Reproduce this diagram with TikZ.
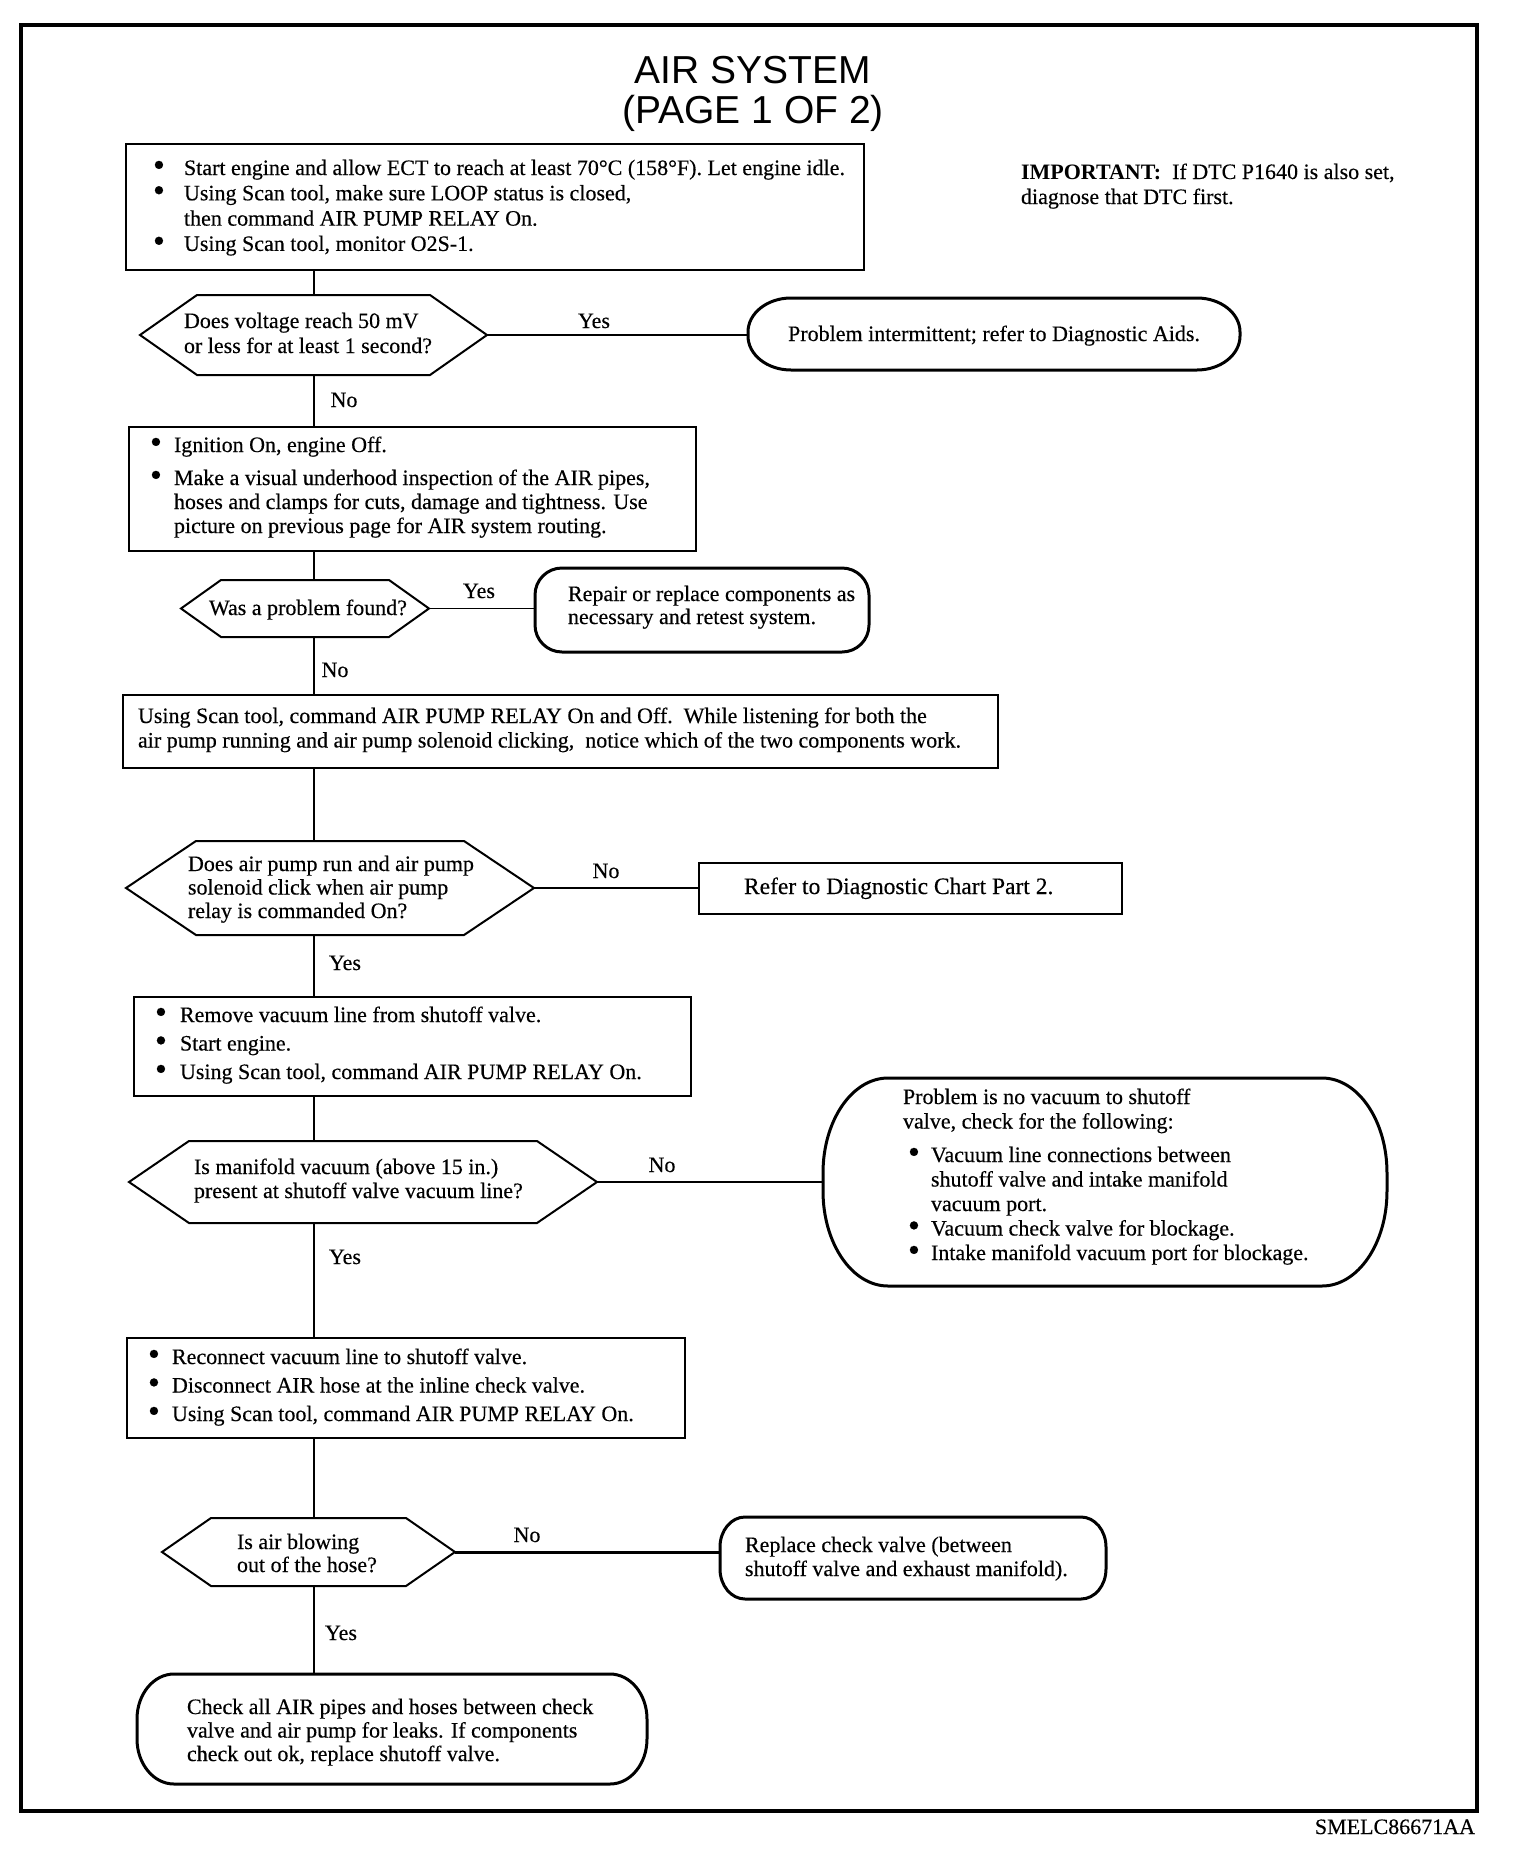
\documentclass[tikz,border=0pt]{standalone}
\usepackage{fontspec}
\usepackage{graphicx}
\setmainfont{Liberation Serif}[UprightFeatures={FakeBold=0.35}]
\newfontfamily\titlefont{Liberation Sans}
\usetikzlibrary{calc}
\newcommand\bul[1]{\makebox[#1pt][l]{\raisebox{-1.2pt}{\scalebox{1.55}{\textbullet}}}}
\newcommand\ind[1]{\hspace*{#1pt}}
\newcommand\tl[1]{\begin{tabular}[t]{@{}l@{}}#1\end{tabular}}
\newcommand\hexpath[2]{\draw[hexline] (#1.west) -- ([xshift=#2pt]#1.north west) -- ([xshift=-#2pt]#1.north east) -- (#1.east) -- ([xshift=-#2pt]#1.south east) -- ([xshift=#2pt]#1.south west) -- cycle;}
\newcommand\termpath[3]{\draw[termline] ([xshift=#2pt]#1.north west) -- ([xshift=-#2pt]#1.north east)
  arc[start angle=90, end angle=0, x radius=#2, y radius=#3]
  -- ([yshift=#3pt]#1.south east)
  arc[start angle=0, end angle=-90, x radius=#2, y radius=#3]
  -- ([xshift=#2pt]#1.south west)
  arc[start angle=-90, end angle=-180, x radius=#2, y radius=#3]
  -- ([yshift=-#3pt]#1.north west)
  arc[start angle=180, end angle=90, x radius=#2, y radius=#3] -- cycle;}
\tikzset{
  boxnode/.style={draw, line width=2pt, inner sep=0pt, outer sep=0pt, anchor=north west},
  shapenode/.style={inner sep=0pt, outer sep=0pt},
  hexline/.style={line width=2pt, line join=miter},
  termline/.style={line width=3pt},
  conn/.style={line width=1.5pt},
  txt/.style={inner sep=0pt, outer sep=0pt, anchor=base west, font=\fontsize{22}{25}\selectfont},
  lbl/.style={inner sep=0pt, outer sep=0pt, anchor=base, font=\fontsize{22}{25}\selectfont},
}
\begin{document}
\begin{tikzpicture}[x=1pt, y=1pt]
\useasboundingbox (0,0) rectangle (1520,-1858);
\draw[line width=3.5pt] (21,-25) rectangle (1477,-1811);

% title
\node[inner sep=0pt, anchor=base, font=\titlefont\fontsize{39}{40}\selectfont] (title) at (753,-83)
  {\begin{tabular}[t]{@{}c@{}}AIR SYSTEM\\(PAGE 1 OF 2)\end{tabular}};
\node[txt] (imp) at (1021,-179) {\tl{\textbf{IMPORTANT:}\ \ If DTC P1640 is also set,\\diagnose that DTC first.}};
\node[txt, anchor=base east] (code) at (1475,-1834) {SMELC86671AA};

% spine
\coordinate (sp) at (314,0);

% box 1
\node[boxnode, minimum width=738pt, minimum height=126pt] (b1) at (126,-144) {};
\node[txt, font=\fontsize{22}{25.3}\selectfont] (b1t) at (153,-175) {\tl{%
\bul{31}Start engine and allow ECT to reach at least 70°C (158°F). Let engine idle.\\
\bul{31}Using Scan tool, make sure LOOP status is closed,\\
\ind{31}then command AIR PUMP RELAY On.\\
\bul{31}Using Scan tool, monitor O2S-1.}};

% hex 1
\node[shapenode, minimum width=347pt, minimum height=80pt] (h1) at (313.5,-335) {};
\hexpath{h1}{57}
\node[txt] (h1t) at (184,-328) {\tl{Does voltage reach 50 mV\\or less for at least 1 second?}};

% term 1
\node[shapenode, minimum width=492pt, minimum height=72pt] (t1) at (994,-334) {};
\termpath{t1}{43}{34}
\node[lbl] (t1t) at (994,-341) {Problem intermittent; refer to Diagnostic Aids.};

% box 2
\node[boxnode, minimum width=567pt, minimum height=124pt] (b2) at (129,-427) {};
\node[txt, font=\fontsize{22}{24}\selectfont] (b2t) at (150,-452) {\tl{%
\bul{24}Ignition On, engine Off.\\[9pt]
\bul{24}Make a visual underhood inspection of the AIR pipes,\\
\ind{24}hoses and clamps for cuts, damage and tightness. Use\\
\ind{24}picture on previous page for AIR system routing.}};

% hex 2
\node[shapenode, minimum width=248pt, minimum height=57pt] (h2) at (305,-608.5) {};
\hexpath{h2}{40}
\node[txt] (h2t) at (209,-615) {Was a problem found?};

% term 2
\node[shapenode, minimum width=334pt, minimum height=84pt] (t2) at (702,-610) {};
\termpath{t2}{27}{27}
\node[txt, font=\fontsize{22}{23}\selectfont] (t2t) at (568,-601) {\tl{Repair or replace components as\\necessary and retest system.}};

% box 3
\node[boxnode, minimum width=875pt, minimum height=73pt] (b3) at (123,-695) {};
\node[txt, font=\fontsize{22}{24.5}\selectfont] (b3t) at (138,-723) {\tl{%
Using Scan tool, command AIR PUMP RELAY On and Off.\ \ While listening for both the\\
air pump running and air pump solenoid clicking,\ \ notice which of the two components work.}};

% hex 3
\node[shapenode, minimum width=408pt, minimum height=94pt] (h3) at (330,-888) {};
\hexpath{h3}{70}
\node[txt, font=\fontsize{22}{23.5}\selectfont] (h3t) at (188,-871) {\tl{Does air pump run and air pump\\solenoid click when air pump\\relay is commanded On?}};

% box 4
\node[boxnode, minimum width=423pt, minimum height=51pt] (b4) at (699,-863) {};
\node[txt, font=\fontsize{23.5}{25}\selectfont] (b4t) at (744,-894) {Refer to Diagnostic Chart Part 2.};

% box 5
\node[boxnode, minimum width=557pt, minimum height=99pt] (b5) at (134,-997) {};
\node[txt, font=\fontsize{22}{28.5}\selectfont] (b5t) at (155,-1022) {\tl{%
\bul{25}Remove vacuum line from shutoff valve.\\
\bul{25}Start engine.\\
\bul{25}Using Scan tool, command AIR PUMP RELAY On.}};

% hex 4
\node[shapenode, minimum width=468pt, minimum height=82pt] (h4) at (363,-1182) {};
\hexpath{h4}{60}
\node[txt, font=\fontsize{22}{24}\selectfont] (h4t) at (194,-1174) {\tl{Is manifold vacuum (above 15 in.)\\present at shutoff valve vacuum line?}};

% term 5
\node[shapenode, minimum width=564pt, minimum height=208pt] (t5) at (1105,-1182) {};
\termpath{t5}{65}{95}
\node[txt, font=\fontsize{22}{24.5}\selectfont] (t5t) at (903,-1104) {\tl{%
Problem is no vacuum to shutoff\\
valve, check for the following:\\[9pt]
\ind{5}\bul{23}Vacuum line connections between\\
\ind{28}shutoff valve and intake manifold\\
\ind{28}vacuum port.\\
\ind{5}\bul{23}Vacuum check valve for blockage.\\
\ind{5}\bul{23}Intake manifold vacuum port for blockage.}};

% box 6
\node[boxnode, minimum width=558pt, minimum height=100pt] (b6) at (127,-1338) {};
\node[txt, font=\fontsize{22}{28.5}\selectfont] (b6t) at (148,-1364) {\tl{%
\bul{24}Reconnect vacuum line to shutoff valve.\\
\bul{24}Disconnect AIR hose at the inline check valve.\\
\bul{24}Using Scan tool, command AIR PUMP RELAY On.}};

% hex 5
\node[shapenode, minimum width=293pt, minimum height=68pt] (h5) at (308.5,-1552) {};
\hexpath{h5}{49}
\node[txt, font=\fontsize{22}{23}\selectfont] (h5t) at (237,-1549) {\tl{Is air blowing\\out of the hose?}};

% term 6
\node[shapenode, minimum width=386pt, minimum height=82pt] (t6) at (913,-1558) {};
\termpath{t6}{25}{30}
\node[txt, font=\fontsize{22}{24}\selectfont] (t6t) at (745,-1552) {\tl{Replace check valve (between\\shutoff valve and exhaust manifold).}};

% term 7
\node[shapenode, minimum width=510pt, minimum height=110pt] (t7) at (392,-1729) {};
\termpath{t7}{37}{45}
\node[txt, font=\fontsize{22}{23.5}\selectfont] (t7t) at (187,-1714) {\tl{%
Check all AIR pipes and hoses between check\\
valve and air pump for leaks. If components\\
check out ok, replace shutoff valve.}};

% connectors
\draw[conn] (b1.south -| sp) -- (h1.north -| sp);
\draw[conn] (h1.south -| sp) -- (b2.north -| sp);
\draw[conn] (b2.south -| sp) -- (h2.north -| sp);
\draw[conn] (h2.south -| sp) -- (b3.north -| sp);
\draw[conn] (b3.south -| sp) -- (h3.north -| sp);
\draw[conn] (h3.south -| sp) -- (b5.north -| sp);
\draw[conn] (b5.south -| sp) -- (h4.north -| sp);
\draw[conn] (h4.south -| sp) -- (b6.north -| sp);
\draw[conn] (b6.south -| sp) -- (h5.north -| sp);
\draw[conn] (h5.south -| sp) -- (t7.north -| sp);
\draw[conn] (h1.east) -- (h1.east -| t1.west);
\draw[conn] (h2.east) -- (h2.east -| t2.west);
\draw[conn] (h3.east) -- (h3.east -| b4.west);
\draw[conn] (h4.east) -- (h4.east -| t5.west);
\draw[conn, line width=3pt] (h5.east) -- (h5.east -| t6.west);

% labels
\node[lbl] (y1) at (594,-328) {Yes};
\node[lbl] (n1) at (344,-407) {No};
\node[lbl] (y2) at (479,-598) {Yes};
\node[lbl] (n2) at (335,-677) {No};
\node[lbl] (n3) at (606,-878) {No};
\node[lbl] (y3) at (345,-970) {Yes};
\node[lbl] (n4) at (662,-1172) {No};
\node[lbl] (y4) at (345,-1264) {Yes};
\node[lbl] (n5) at (527,-1542) {No};
\node[lbl] (y5) at (341,-1640) {Yes};
\end{tikzpicture}
\end{document}
